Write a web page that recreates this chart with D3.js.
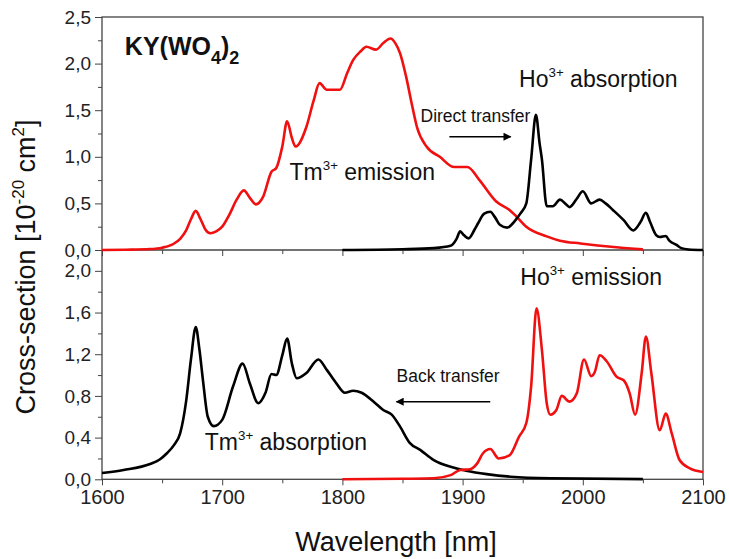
<!DOCTYPE html>
<html>
<head>
<meta charset="utf-8">
<script src="https://cdn.jsdelivr.net/npm/d3@7"></script>
<style>
    body { margin: 0; background: #fff; }
    svg { font-family: "Liberation Sans", Arial, sans-serif; }
    .tick text { fill: #222; }
    .tick line { stroke: #444; }
</style>
</head>
<body>
<div id="chart"></div>
<script>
// Top panel: Tm3+ emission (red) and Ho3+ absorption (black)
const tmEmission = [[1600,0],[1620,0.003],[1640,0.01],[1650,0.025],[1660,0.07],[1665,0.12],[1670,0.21],[1674,0.33],[1678,0.42],
    [1682,0.33],[1686,0.22],[1690,0.18],[1695,0.2],[1700,0.25],[1706,0.38],[1712,0.54],[1718,0.64],[1723,0.56],[1728,0.49],
    [1734,0.57],[1741,0.84],[1745,0.88],[1750,1.11],[1754,1.38],[1758,1.2],[1761,1.11],[1770,1.32],[1776,1.6],[1781,1.79],
    [1787,1.72],[1798,1.72],[1804,1.9],[1809,2.04],[1815,2.13],[1820,2.18],[1828,2.15],[1834,2.22],[1840,2.27],[1844,2.22],
    [1848,2.11],[1853,1.86],[1858,1.55],[1862,1.32],[1870,1.11],[1881,1.0],[1893,0.89],[1904,0.89],[1914,0.75],[1928,0.52],
    [1939,0.43],[1944,0.37],[1953,0.25],[1970,0.146],[1981,0.1],[1998,0.07],[2028,0.029],[2050,0.007]];

const hoAbsorption = [[1800,0],[1850,0.008],[1876,0.02],[1890,0.045],[1895,0.12],[1898,0.2],[1901,0.16],[1905,0.125],[1910,0.22],
    [1913,0.29],[1918,0.39],[1923,0.41],[1927,0.35],[1931,0.27],[1937,0.24],[1944,0.32],[1948,0.39],[1953,0.5],[1957,0.97],
    [1961,1.45],[1964,1.15],[1966,0.97],[1970,0.47],[1975,0.47],[1981,0.54],[1986,0.49],[1989,0.46],[1995,0.55],[2000,0.63],
    [2007,0.5],[2014,0.54],[2019,0.5],[2025,0.43],[2034,0.32],[2042,0.21],[2048,0.3],[2052.5,0.4],[2056,0.3],[2061,0.16],
    [2064,0.14],[2069,0.15],[2072,0.1],[2078,0.054],[2082,0.02],[2088,0.006],[2100,0]];

// Bottom panel: Tm3+ absorption (black) and Ho3+ emission (red)
const tmAbsorption = [[1600,0.06],[1618,0.09],[1640,0.147],[1648,0.19],[1654,0.25],[1660,0.33],[1665,0.44],[1670,0.75],[1674,1.15],
    [1678,1.46],[1681,1.25],[1684,0.95],[1688,0.6],[1693,0.51],[1700,0.57],[1709,0.89],[1717,1.11],[1723,0.92],[1730,0.73],
    [1736,0.83],[1741,1.01],[1745,1.0],[1750,1.19],[1754,1.35],[1758,1.11],[1762,0.97],[1770,1.02],[1780,1.15],[1787,1.05],
    [1795,0.92],[1802,0.83],[1809,0.85],[1816,0.83],[1826,0.745],[1834,0.665],[1841,0.62],[1848,0.505],[1856,0.35],[1865,0.28],
    [1876,0.185],[1890,0.12],[1903,0.083],[1920,0.05],[1940,0.025],[1973,0.01],[2050,0.002]];

const hoEmission = [[1800,0],[1850,0.005],[1876,0.01],[1890,0.04],[1898,0.09],[1906,0.096],[1912,0.15],[1917,0.25],[1923,0.29],
    [1930,0.2],[1939,0.23],[1947,0.41],[1953,0.54],[1957,0.89],[1961.5,1.64],[1966,1.24],[1970,0.73],[1973,0.62],[1978,0.665],
    [1982.5,0.8],[1989,0.745],[1995,0.825],[2001,1.15],[2007,0.99],[2010,1.03],[2014,1.19],[2020,1.13],[2028,0.985],[2034,0.95],
    [2039,0.825],[2043.5,0.62],[2049,1.02],[2052.5,1.37],[2057,1.02],[2064,0.47],[2069,0.63],[2074,0.44],[2080.5,0.185],
    [2089,0.105],[2100,0.07]];

const xTicks = [1600, 1700, 1800, 1900, 2000, 2100];
const xMinor = [1650, 1750, 1850, 1950, 2050];
const topTicks = [0, 0.5, 1.0, 1.5, 2.0, 2.5];
const topMinor = [0.25, 0.75, 1.25, 1.75, 2.25];
const botTicks = [0, 0.4, 0.8, 1.2, 1.6, 2.0];
const botMinor = [0.2, 0.6, 1.0, 1.4, 1.8];

let width = 729, height = 559;
let svg = d3.select("#chart").append("svg")
    .attr("width", width)
    .attr("height", height);

let x = d3.scaleLinear().domain([1600, 2100]).range([102, 703]);
let yTop = d3.scaleLinear().domain([0, 2.5]).range([250, 17]);
let yBot = d3.scaleLinear().domain([0, 2.2]).range([479.3, 250]);

let fmt = d => d3.format(".1f")(d).replace(".", ",");

// axes
function yAxis(scale, major, minor) {
    svg.append("g")
        .attr("transform", "translate(" + x.range()[0] + ",0)")
        .call(d3.axisLeft(scale).tickValues(minor).tickSize(4).tickFormat(""))
        .call(g => g.select(".domain").remove());
    svg.append("g")
        .attr("transform", "translate(" + x.range()[0] + ",0)")
        .call(d3.axisLeft(scale).tickValues(major).tickSize(7).tickPadding(4).tickFormat(fmt))
        .call(g => g.select(".domain").remove())
        .selectAll("text").style("font-size", "19px");
}
function xAxis(yPos, labels) {
    svg.append("g")
        .attr("transform", "translate(0," + yPos + ")")
        .call(d3.axisBottom(x).tickValues(xMinor).tickSize(4).tickFormat(""))
        .call(g => g.select(".domain").remove());
    let g = svg.append("g")
        .attr("transform", "translate(0," + yPos + ")")
        .call(d3.axisBottom(x).tickValues(xTicks).tickSize(6).tickPadding(5).tickFormat(labels ? d3.format("d") : ""))
        .call(g => g.select(".domain").remove());
    g.selectAll("text").style("font-size", "20px");
}
yAxis(yTop, topTicks, topMinor);
yAxis(yBot, botTicks, botMinor);
xAxis(yTop(0), false);
xAxis(yBot(0), true);

// frames
svg.append("rect")
    .attr("x", x(1600)).attr("y", yTop(2.5))
    .attr("width", x(2100) - x(1600)).attr("height", yBot(0) - yTop(2.5))
    .attr("fill", "none").attr("stroke", "#444").attr("stroke-width", 1.3);
svg.append("line")
    .attr("x1", x(1600)).attr("x2", x(2100))
    .attr("y1", yTop(0)).attr("y2", yTop(0))
    .attr("stroke", "#444").attr("stroke-width", 1.3);

// curves
let lineTop = d3.line().x(d => x(d[0])).y(d => yTop(d[1])).curve(d3.curveMonotoneX);
let lineBot = d3.line().x(d => x(d[0])).y(d => yBot(d[1])).curve(d3.curveMonotoneX);

[[tmEmission, lineTop, "#f01010"], [hoAbsorption, lineTop, "#000"],
 [tmAbsorption, lineBot, "#000"], [hoEmission, lineBot, "#f01010"]].forEach(s => {
    svg.append("path")
        .datum(s[0])
        .attr("d", s[1])
        .attr("fill", "none")
        .attr("stroke", s[2])
        .attr("stroke-width", 2.6)
        .attr("stroke-linejoin", "round");
});

// annotations
svg.append("defs").append("marker")
    .attr("id", "head")
    .attr("viewBox", "0 0 10 10")
    .attr("refX", 9).attr("refY", 5)
    .attr("markerWidth", 12).attr("markerHeight", 8)
    .attr("markerUnits", "userSpaceOnUse")
    .attr("orient", "auto")
    .append("path").attr("d", "M0,0L10,5L0,10Z").attr("fill", "#000");

function label(px, py, main, sup, rest, size) {
    let t = svg.append("text")
        .attr("x", px).attr("y", py)
        .style("font-size", size + "px")
        .attr("fill", "#111");
    t.append("tspan").text(main);
    if (sup) {
        t.append("tspan").attr("dy", -size * 0.42).style("font-size", (size * 0.58) + "px").text(sup);
        t.append("tspan").attr("dy", size * 0.42).text(rest);
    }
    return t;
}
label(x(1756), yTop(0.75), "Tm", "3+", "\u00a0emission", 23);
label(x(1947), yTop(1.75), "Ho", "3+", "\u00a0absorption", 23);
label(x(1865), yTop(1.377), "Direct transfer", null, null, 17.5);
label(x(1948), yBot(1.865), "Ho", "3+", "\u00a0emission", 23);
label(x(1845), yBot(0.937), "Back transfer", null, null, 17.5);
label(x(1685.5), yBot(0.281), "Tm", "3+", "\u00a0absorption", 23);

svg.append("line")
    .attr("x1", x(1889)).attr("x2", x(1940))
    .attr("y1", yTop(1.216)).attr("y2", yTop(1.216))
    .attr("stroke", "#000").attr("stroke-width", 1.5)
    .attr("marker-end", "url(#head)");
svg.append("line")
    .attr("x1", x(1923)).attr("x2", x(1845))
    .attr("y1", yBot(0.745)).attr("y2", yBot(0.745))
    .attr("stroke", "#000").attr("stroke-width", 1.5)
    .attr("marker-end", "url(#head)");

// compound
let kt = svg.append("text")
    .attr("x", x(1619)).attr("y", yTop(2.09))
    .style("font-size", "25px").style("font-weight", "bold").attr("fill", "#111");
kt.append("tspan").text("KY(WO");
kt.append("tspan").attr("dy", 9).style("font-size", "18px").text("4");
kt.append("tspan").attr("dy", -9).text(")");
kt.append("tspan").attr("dy", 9).style("font-size", "18px").text("2");

// axis titles
svg.append("text")
    .attr("x", 396).attr("y", 551)
    .attr("text-anchor", "middle")
    .style("font-size", "27px").attr("fill", "#111")
    .text("Wavelength [nm]");

let yt = svg.append("text")
    .attr("transform", "translate(35,267) rotate(-90)")
    .attr("text-anchor", "middle")
    .style("font-size", "27px").attr("fill", "#111");
yt.append("tspan").text("Cross-section [10");
yt.append("tspan").attr("dy", -11).style("font-size", "17px").text("-20");
yt.append("tspan").attr("dy", 11).text(" cm");
yt.append("tspan").attr("dy", -11).style("font-size", "17px").text("2");
yt.append("tspan").attr("dy", 11).text("]");
</script>
</body>
</html>
